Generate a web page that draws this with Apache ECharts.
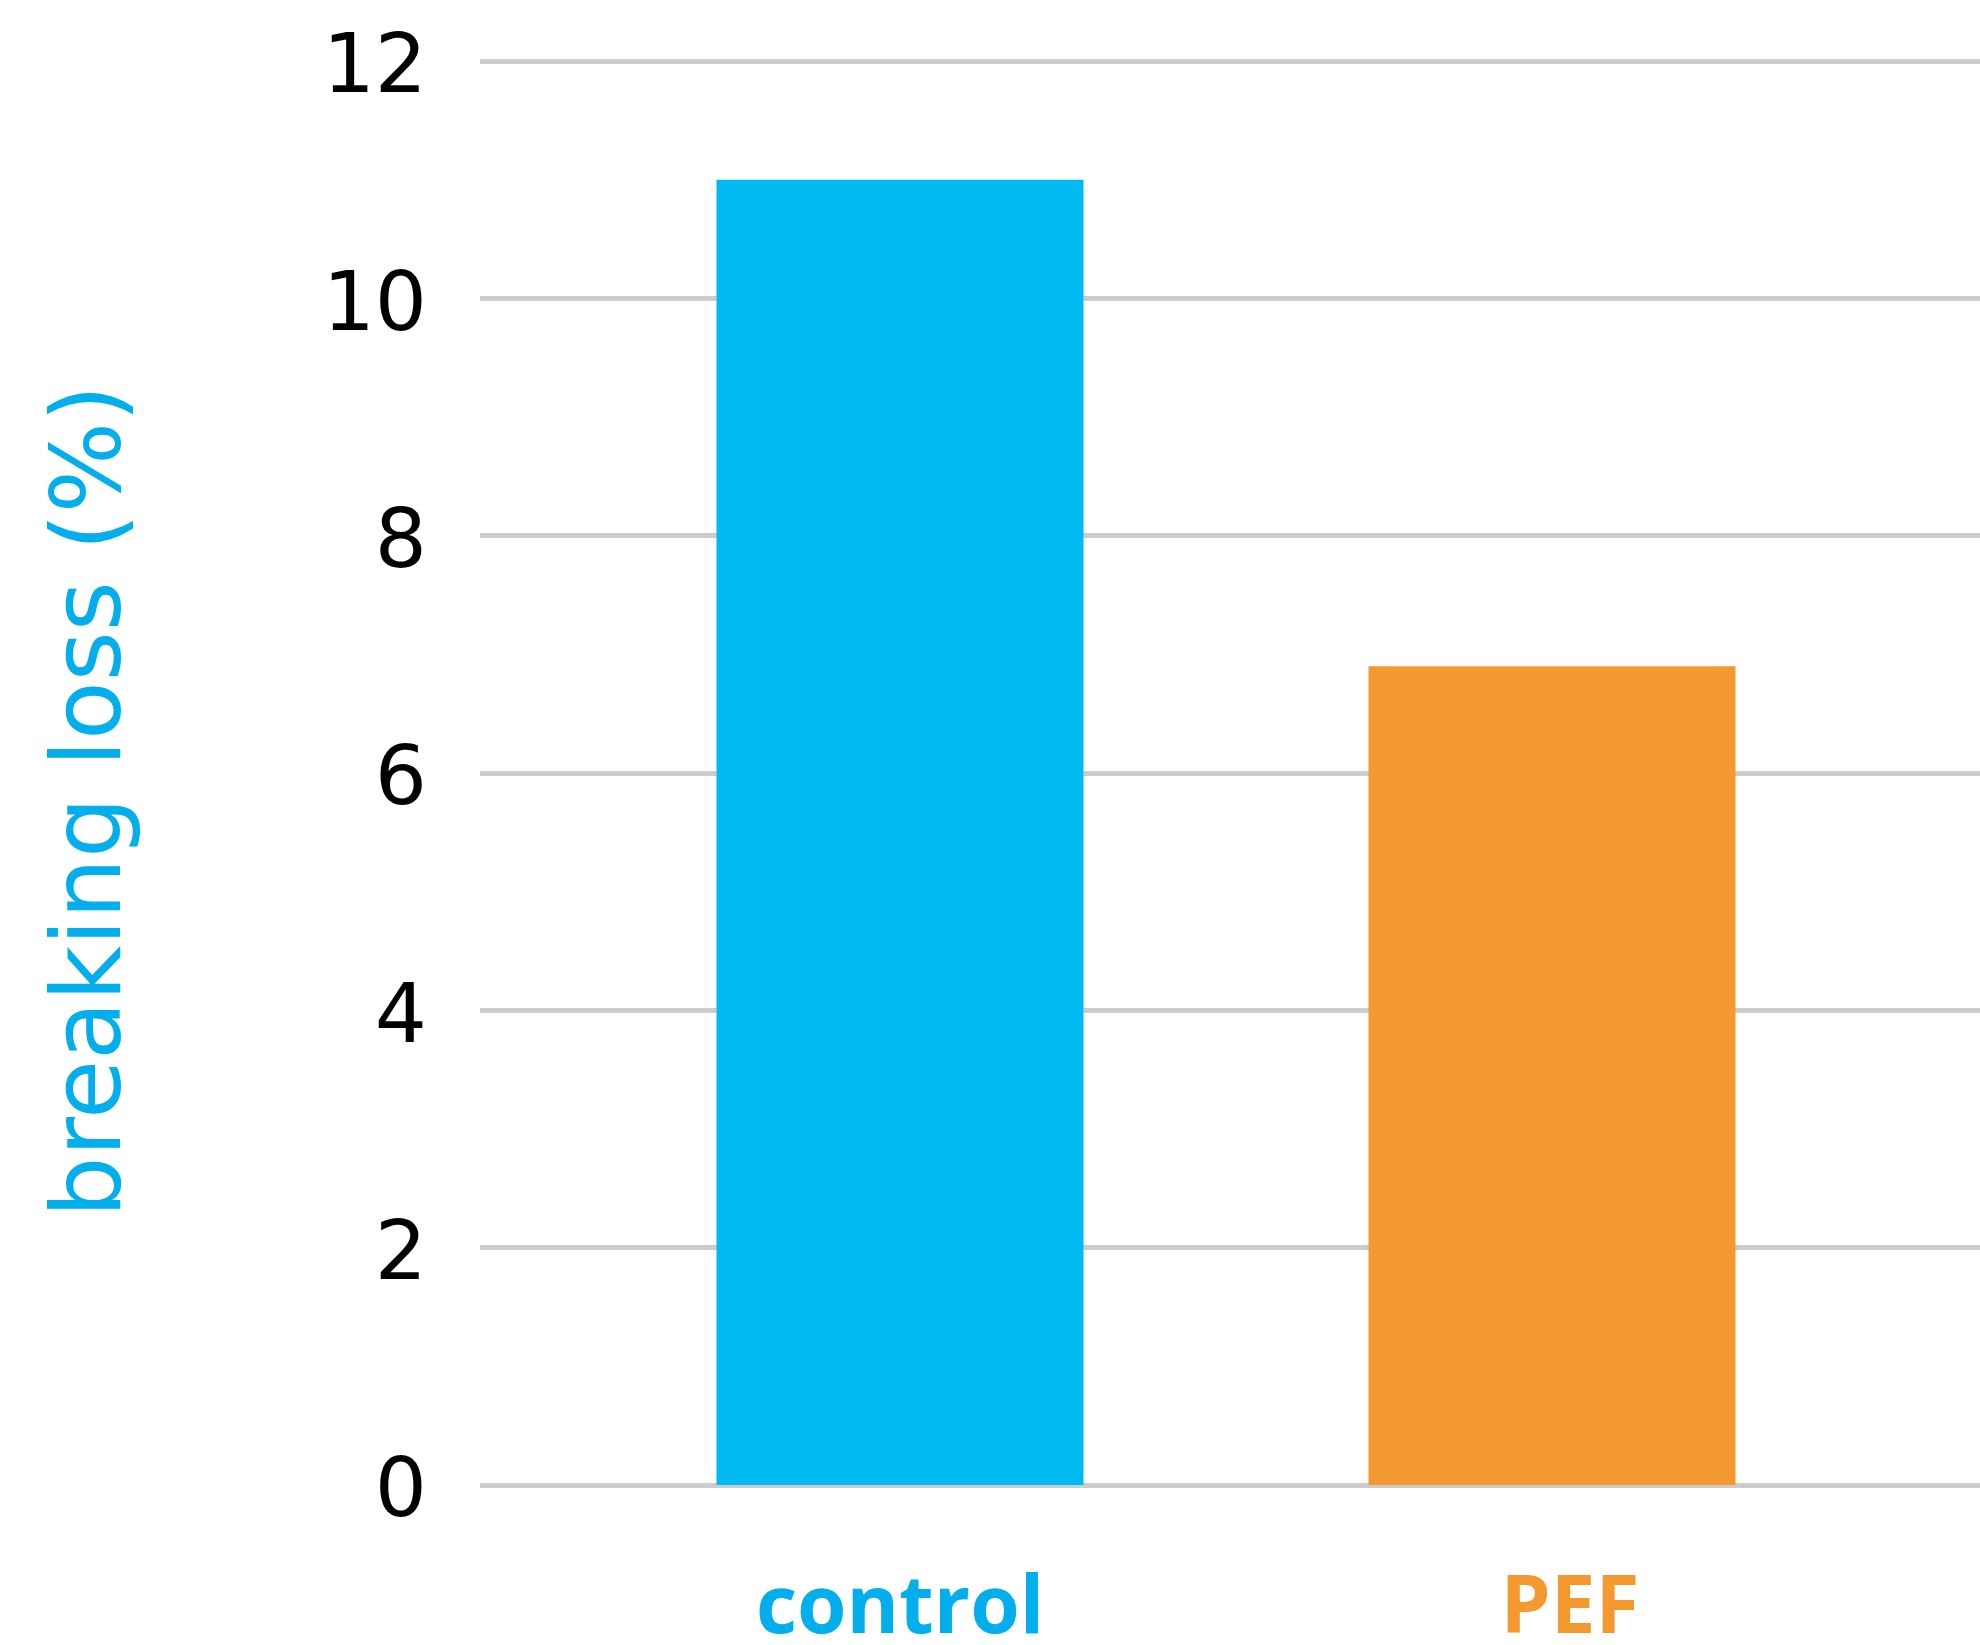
<!DOCTYPE html>
<html>
<head>
<meta charset="utf-8">
<script src="https://cdn.jsdelivr.net/npm/echarts@6/dist/echarts.min.js"></script>
<style>
  html, body { margin: 0; padding: 0; background: #ffffff; }
  #chart { width: 1980px; height: 1645px; }
</style>
</head>
<body>
<div id="chart"></div>
<script>
// Breaking loss per treatment
const categories = ['control', 'PEF'];
const breakingLoss = [11.0, 6.9];
const barColors = ['#02BAF2', '#F4992F'];
const labelColors = ['#03AEEC', '#F4992F'];
const yTicks = [0, 2, 4, 6, 8, 10, 12];

const yMin = yTicks[0];
const yMax = yTicks[yTicks.length - 1];
const yStep = yTicks[1] - yTicks[0];

const chart = echarts.init(document.getElementById('chart'), null, { renderer: 'canvas' });

chart.setOption({
  animation: false,
  backgroundColor: '#ffffff',
  grid: [
    // full-width grid carrying the horizontal gridlines and value labels
    { left: 480, right: 0, top: 61, bottom: 160, outerBoundsMode: 'none', containLabel: false },
    // narrower grid holding the bars
    { left: 574, right: 102, top: 61, bottom: 160, outerBoundsMode: 'none', containLabel: false }
  ],
  xAxis: [
    { gridIndex: 0, type: 'value', show: false, min: 0, max: 1 },
    {
      gridIndex: 1,
      type: 'category',
      data: categories.map((c, i) => ({
        value: c,
        textStyle: {
          color: labelColors[i],
          padding: i === 1 ? [0, 0, 0, 36] : 0
        }
      })),
      axisLine: { show: false },
      axisTick: { show: false },
      axisLabel: {
        margin: 85,
        fontFamily: 'Open Sans',
        fontWeight: 'bold',
        fontSize: 80
      }
    }
  ],
  yAxis: [
    {
      gridIndex: 0,
      type: 'value',
      min: yMin,
      max: yMax,
      interval: yStep,
      axisLine: { show: false },
      axisTick: { show: false },
      axisLabel: {
        margin: 53,
        color: '#000000',
        fontFamily: 'DejaVu Sans',
        fontSize: 82,
        verticalAlign: 'top',
        lineHeight: 20
      },
      splitLine: { show: true, lineStyle: { color: '#cccccc', width: 5 } },
      name: 'breaking loss (%)',
      nameLocation: 'middle',
      nameRotate: 90,
      nameGap: 337,
      nameTextStyle: {
        color: '#03AEEC',
        fontFamily: 'DejaVu Sans',
        fontSize: 96,
        padding: [0, 56, 0, 0]
      }
    },
    {
      gridIndex: 1,
      type: 'value',
      min: yMin,
      max: yMax,
      interval: yStep,
      show: false,
      splitLine: { show: false }
    }
  ],
  series: [
    {
      type: 'bar',
      xAxisIndex: 1,
      yAxisIndex: 1,
      barWidth: 367,
      data: breakingLoss.map((v, i) => ({
        value: v,
        itemStyle: { color: barColors[i] }
      }))
    }
  ]
});
</script>
</body>
</html>
